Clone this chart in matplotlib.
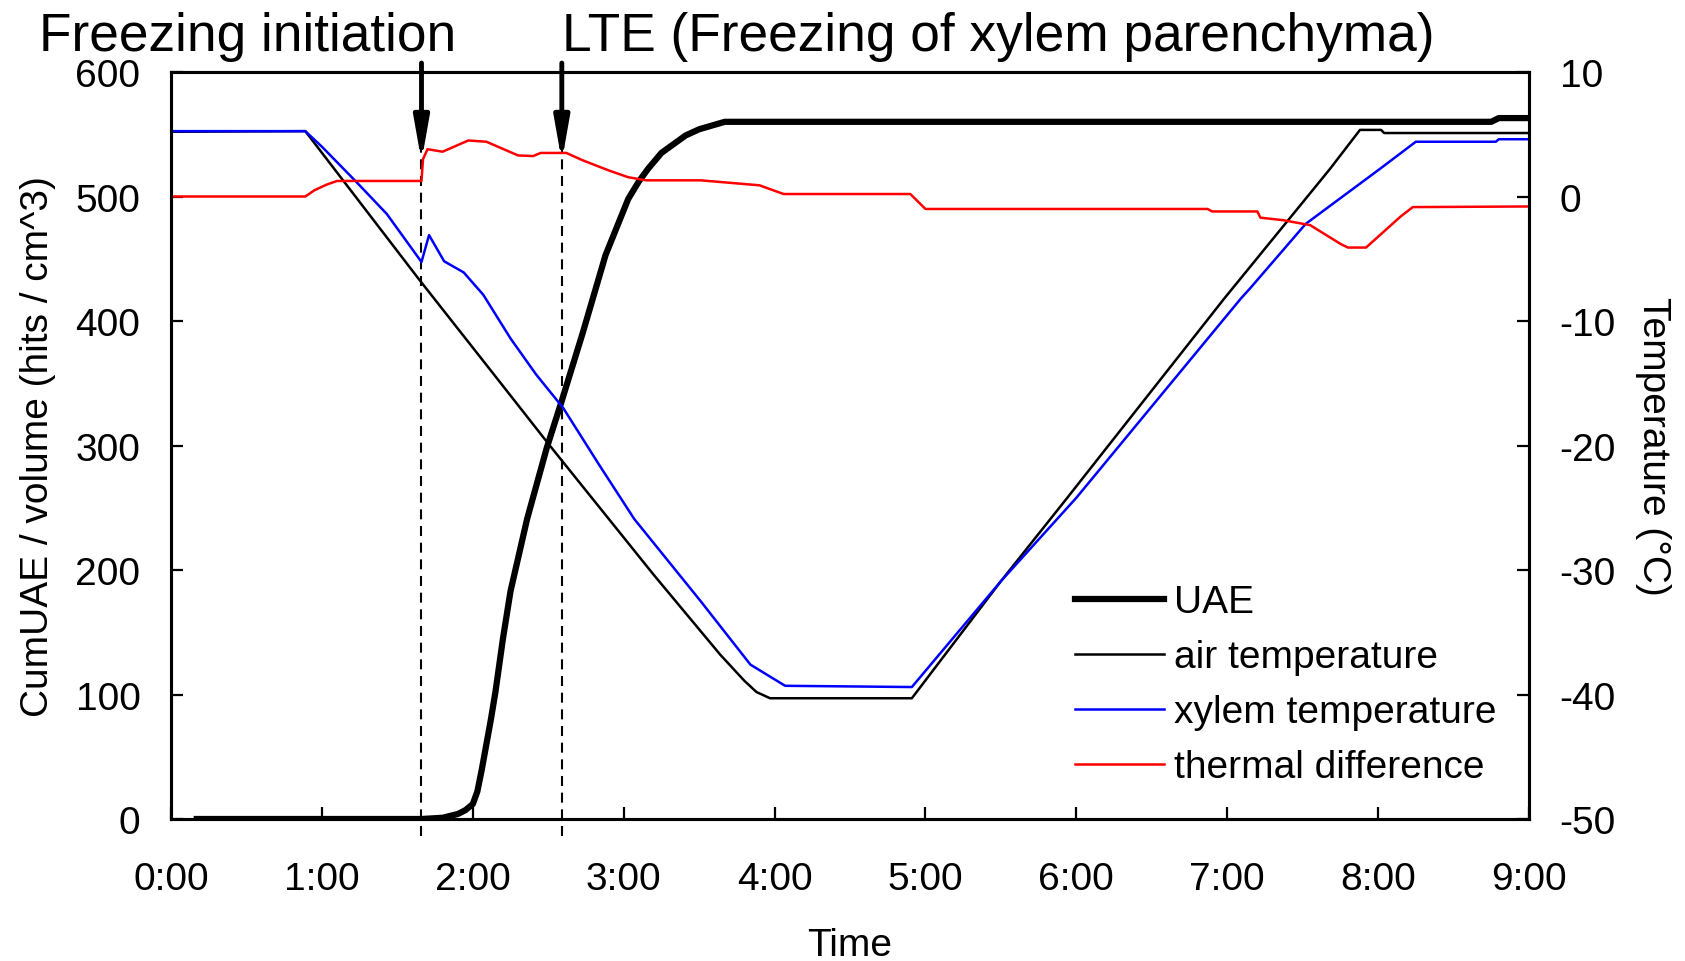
import matplotlib
matplotlib.use("Agg")
import matplotlib.pyplot as plt
from matplotlib.lines import Line2D
import matplotlib.transforms as mtransforms

plt.rcParams['font.family'] = ['Liberation Sans', 'DejaVu Sans']
plt.rcParams['axes.unicode_minus'] = False

# time in hours since start
uae_time = [0.15, 1.66, 1.80, 1.90, 1.95, 2.00, 2.03, 2.06, 2.09, 2.12, 2.15, 2.20, 2.25, 2.36,
            2.49, 2.59, 2.73, 2.88, 3.03, 3.10, 3.16, 3.25, 3.41, 3.50, 3.67, 8.75, 8.80, 9.00]
uae_vals = [0, 0, 1, 4, 7, 12, 22, 40, 60, 80, 102, 145, 183, 241,
            298, 336, 391, 453, 498, 512, 522, 535, 549, 554, 560, 560, 563, 563]

air_time = [0.0, 0.89, 1.64, 2.16, 2.51, 3.20, 3.64, 3.80, 3.88, 3.97, 4.91, 5.50, 5.94,
            6.98, 7.68, 7.88, 8.02, 8.04, 9.00]
air_temp = [5.2, 5.25, -6.6, -14.6, -20.0, -30.4, -36.8, -38.9, -39.8, -40.3, -40.3, -30.9, -24.2,
            -8.2, 2.2, 5.35, 5.35, 5.1, 5.1]

xyl_time = [0.0, 0.89, 1.00, 1.23, 1.43, 1.66, 1.71, 1.81, 1.94, 2.07, 2.25, 2.42, 2.60, 2.84,
            3.07, 3.51, 3.84, 4.07, 4.91, 5.50, 6.00, 7.09, 7.15, 7.52, 8.01, 8.25, 8.78, 8.80, 9.00]
xyl_temp = [5.25, 5.25, 4.0, 1.15, -1.4, -5.26, -3.1, -5.2, -6.1, -7.9, -11.4, -14.3, -17.0, -21.6,
            -25.9, -32.5, -37.6, -39.3, -39.4, -30.9, -24.2, -8.2, -7.4, -2.2, 2.2, 4.4, 4.4, 4.6, 4.6]

diff_time = [0.0, 0.89, 0.95, 1.03, 1.10, 1.66, 1.67, 1.70, 1.80, 1.97, 2.09, 2.30, 2.40, 2.45,
             2.62, 2.73, 2.90, 3.03, 3.15, 3.51, 3.90, 4.06, 4.90, 5.00, 6.87, 6.90, 7.20, 7.22,
             7.37, 7.55, 7.75, 7.80, 7.92, 8.15, 8.23, 9.00]
diff_temp = [0.0, 0.0, 0.5, 0.95, 1.25, 1.25, 3.0, 3.8, 3.6, 4.5, 4.4, 3.3, 3.25, 3.5,
             3.5, 2.9, 2.1, 1.55, 1.3, 1.3, 0.9, 0.2, 0.2, -1.0, -1.0, -1.2, -1.2, -1.7,
             -1.9, -2.3, -3.8, -4.1, -4.1, -1.6, -0.85, -0.8]

freeze_time = 1.66   # freezing initiation
lte_time = 2.59      # LTE

hour_ticks = list(range(10))
hour_labels = ['%d:00' % h for h in hour_ticks]

fig = plt.figure(figsize=(16.85, 9.62), dpi=100)
ax = fig.add_axes([0.1015, 0.1476, 0.8059, 0.7765])
ax2 = ax.twinx()

thin = 1.8
ax.plot(uae_time, uae_vals, color='black', lw=4.5, solid_capstyle='butt')
ax2.plot(air_time, air_temp, color='black', lw=thin)
ax2.plot(xyl_time, xyl_temp, color='#0000ff', lw=thin)
ax2.plot(diff_time, diff_temp, color='#ff0000', lw=thin)

ax.set_xlim(0, 9)
ax.set_ylim(0, 600)
ax2.set_ylim(-50, 10)
ax.set_xticks(hour_ticks)
ax.set_xticklabels(hour_labels)
ax.set_yticks(range(0, 601, 100))
ax2.set_yticks(range(-50, 11, 10))

fs = 28
for a in (ax, ax2):
    for s in a.spines.values():
        s.set_linewidth(2.2)
    a.tick_params(direction='in', length=8.5, width=1.6, labelsize=fs)
ax.tick_params(axis='x', pad=30)
ax.tick_params(axis='y', pad=22)
ax2.tick_params(axis='y', pad=22)

ax.set_xlabel('Time', fontsize=fs, labelpad=22)
ax.set_ylabel('CumUAE / volume (hits / cm^3)', fontsize=fs, labelpad=14)
ax2.set_ylabel('Temperature (°C)', fontsize=fs, rotation=270, labelpad=40)

# event markers
trans = mtransforms.blended_transform_factory(ax.transData, ax.transAxes)
for t in (freeze_time, lte_time):
    ax.plot([t, t], [-0.023, 0.9], transform=trans, color='black', lw=1.5,
            linestyle=(0, (4.8, 3.2)), clip_on=False)
    ax.annotate('', xy=(t, 0.88), xycoords=trans, xytext=(t, 1.012), textcoords=trans,
                arrowprops=dict(arrowstyle='-|>,head_length=1.7,head_width=0.3',
                                mutation_scale=15, lw=3.5, color='black',
                                shrinkA=0, shrinkB=0),
                annotation_clip=False)

fig.text(0.023, 0.9475, 'Freezing initiation', fontsize=38.3, va='baseline', ha='left')
ax.text(lte_time, 1.030, 'LTE (Freezing of xylem parenchyma)', transform=trans,
        fontsize=38.3, va='baseline', ha='left')

handles = [Line2D([], [], color='black', lw=4.5),
           Line2D([], [], color='black', lw=thin),
           Line2D([], [], color='#0000ff', lw=thin),
           Line2D([], [], color='#ff0000', lw=thin)]
labels = ['UAE', 'air temperature', 'xylem temperature', 'thermal difference']
ax2.legend(handles, labels, loc='upper left', bbox_to_anchor=(0.654, 0.335),
           frameon=False, fontsize=fs, handlelength=2.3, handletextpad=0.25,
           labelspacing=0.49, borderaxespad=0)

fig.savefig('out.png', dpi=100)
